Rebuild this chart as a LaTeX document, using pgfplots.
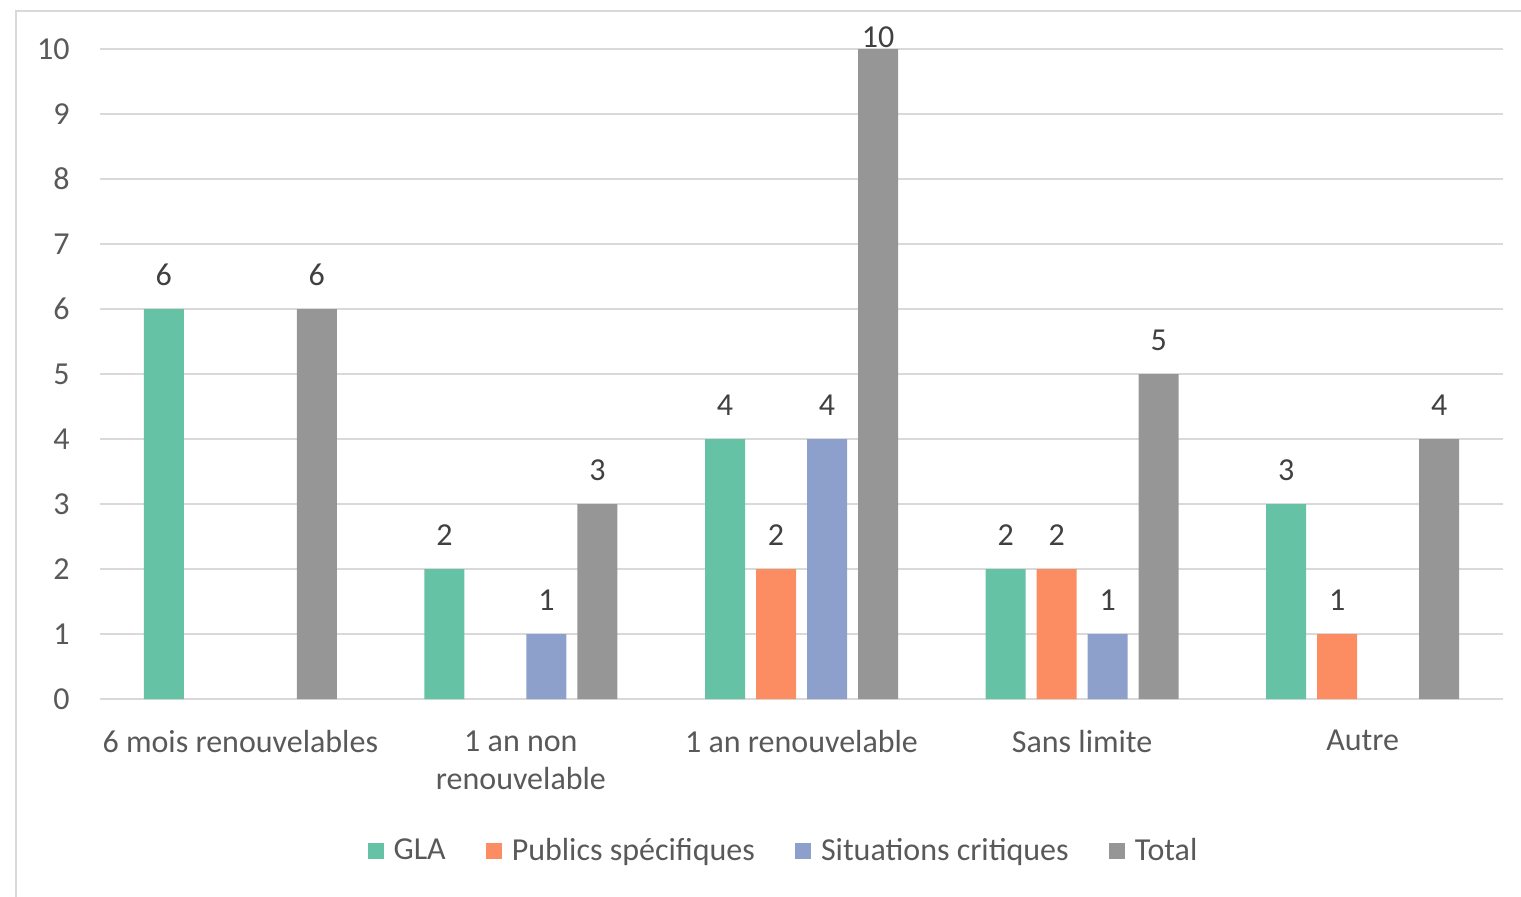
\documentclass[border=0pt]{standalone}
\usepackage{pgfplots}
\pgfplotsset{compat=1.18}
\usepackage{fontspec}
\setmainfont{Carlito}
\definecolor{cGLA}{HTML}{66C2A5}
\definecolor{cPub}{HTML}{FC8D62}
\definecolor{cSit}{HTML}{8DA0CB}
\definecolor{cTot}{HTML}{969696}
\definecolor{gridc}{HTML}{D9D9D9}
\definecolor{txt}{HTML}{595959}
\definecolor{lbl}{HTML}{404040}
\newcommand{\cf}{\fontsize{16}{19}\selectfont}
\begin{document}
\begin{tikzpicture}
\useasboundingbox (-50pt,-98.5pt) rectangle (710.5pt,349.5pt);
\draw[gridc, line width=0.8pt] (-42pt,-120pt) -- (-42pt,344pt) -- (730pt,344pt);
\begin{axis}[at={(0,0)}, anchor=south west, scale only axis,
  width=701.5pt, height=325pt,
  xmin=-0.5, xmax=4.5, ymin=0, ymax=10,
  ytick={0,...,10}, xtick={0,...,4},
  xticklabels={6 mois renouvelables, {1 an non\\renouvelable}, 1 an renouvelable, Sans limite, Autre},
  ybar=5.5pt, bar width=20pt,
  legend image code/.code={\fill[#1] (0pt,-4pt) rectangle (8pt,4pt);},
  axis line style={draw=none},
  major tick length=0pt,
  ymajorgrids, major grid style={gridc, line width=0.8pt},
  /pgf/number format/assume math mode=true,
  yticklabel style={font=\cf, text=txt, anchor=east, inner sep=0pt, xshift=-15pt},
  xticklabel style={font=\cf, text=txt, anchor=north, align=center, inner sep=0pt, yshift=-15.5pt},
  nodes near coords,
  nodes near coords style={font=\cf, text=lbl, anchor=south, inner sep=0pt, yshift=11.5pt},
  clip=false,
  legend columns=4,
  legend style={at={(0.4879,-0.2338)}, anchor=center, draw=none, fill=none, font=\cf, text=txt,
    /tikz/every odd column/.append style={column sep=3pt},
    /tikz/every even column/.append style={column sep=18pt},
    nodes={inner sep=2pt}},
]
\addplot[fill=cGLA, draw=none] coordinates {(0,6) (1,2) (2,4) (3,2) (4,3)};
\addplot[fill=cPub, draw=none] coordinates {(2,2) (3,2) (4,1)};
\addplot[fill=cSit, draw=none] coordinates {(1,1) (2,4) (3,1)};
\addplot[fill=cTot, draw=none, coordinate style/.condition={y>9.5}{yshift=-11pt}] coordinates {(0,6) (1,3) (2,10) (3,5) (4,4)};
\legend{GLA, Publics spécifiques, Situations critiques, Total}
\end{axis}
\end{tikzpicture}
\end{document}
